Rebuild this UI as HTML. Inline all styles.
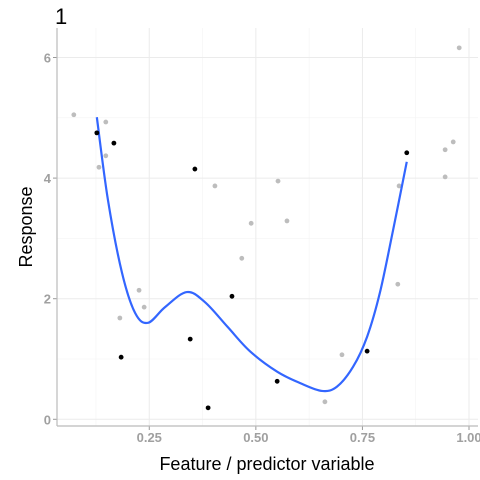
<!DOCTYPE html>
<html><head><meta charset="utf-8"><style>
body{margin:0;background:#fff}
svg{display:block;font-family:"Liberation Sans",sans-serif}
</style></head><body>
<svg id="chart" width="480" height="480">
<text x="55" y="24" font-size="22" fill="#000">1</text>
<text x="267" y="470" font-size="18" text-anchor="middle" fill="#000">Feature / predictor variable</text>
<text transform="translate(32,227) rotate(-90)" font-size="18" text-anchor="middle" fill="#000">Response</text>
<g id="grid"></g><g id="axes"></g><g id="marks"></g>
</svg>
<script>
const xTicks=[0.25,0.5,0.75,1.0];
const xTickLabels=["0.25","0.50","0.75","1.00"];
const yTicks=[0,2,4,6];
const yTickLabels=["0","2","4","6"];
const greyX=[0.073,0.148,0.148,0.132,0.226,0.238,0.181,0.404,0.489,0.467,0.552,0.573,0.702,0.662,0.836,0.833,0.944,0.963,0.944,0.977];
const greyY=[5.05,4.93,4.37,4.18,2.14,1.86,1.68,3.87,3.25,2.67,3.95,3.29,1.07,0.29,3.87,2.24,4.47,4.60,4.02,6.16];
const blackX=[0.127,0.167,0.357,0.184,0.444,0.346,0.388,0.854,0.761,0.550];
const blackY=[4.75,4.58,4.15,1.03,2.04,1.33,0.19,4.42,1.13,0.63];
const curveX=[0.127,0.153,0.186,0.217,0.247,0.287,0.338,0.381,0.434,0.486,0.550,0.604,0.655,0.690,0.728,0.761,0.791,0.822,0.854];
const curveY=[5.01,3.64,2.43,1.76,1.60,1.86,2.11,1.94,1.53,1.13,0.79,0.60,0.47,0.54,0.87,1.37,2.10,3.14,4.27];
const NS="http://www.w3.org/2000/svg";
const sx=v=>42.7+v*426.3, sy=v=>419.3-v*60.3;
const L=57,R=478,T=28,B=426;
function mk(tag,attrs,parent){const e=document.createElementNS(NS,tag);for(const k in attrs)e.setAttribute(k,attrs[k]);parent.appendChild(e);return e;}
const grid=document.getElementById('grid'),axes=document.getElementById('axes'),marks=document.getElementById('marks');
// minor grid
for(let i=0;i<xTicks.length-1;i++){const m=(xTicks[i]+xTicks[i+1])/2;const g=mk('line',{x1:sx(m),x2:sx(m),y1:T,y2:B,stroke:'#f3f3f3','stroke-width':0.6},grid);}
{const g=mk('line',{x1:sx(0.125),x2:sx(0.125),y1:T,y2:B,stroke:'#f3f3f3','stroke-width':0.6},grid);}
for(let i=0;i<yTicks.length-1;i++){const m=(yTicks[i]+yTicks[i+1])/2;const g=mk('line',{x1:L,x2:R,y1:sy(m),y2:sy(m),stroke:'#f3f3f3','stroke-width':0.6},grid);}
xTicks.forEach((t,i)=>{
 const g=mk('line',{x1:sx(t),x2:sx(t),y1:T,y2:B,stroke:'#ebebeb','stroke-width':1},grid);
 
 const tk=mk('line',{x1:sx(t),x2:sx(t),y1:B,y2:B+4,stroke:'#999','stroke-width':1},axes);
 
 const tx=mk('text',{x:sx(t),y:B+16,'font-size':13,'font-weight':'bold','text-anchor':'middle',fill:'#a0a0a0'},axes);
 tx.textContent=xTickLabels[i];
 
});
yTicks.forEach((t,i)=>{
 const g=mk('line',{x1:L,x2:R,y1:sy(t),y2:sy(t),stroke:'#ebebeb','stroke-width':1},grid);
 
 const tk=mk('line',{x1:L-4,x2:L,y1:sy(t),y2:sy(t),stroke:'#999','stroke-width':1},axes);
 
 const tx=mk('text',{x:L-6,y:sy(t)+5,'font-size':13,'font-weight':'bold','text-anchor':'end',fill:'#a0a0a0'},axes);
 tx.textContent=yTickLabels[i];
 
});
const ax1=mk('line',{x1:L,x2:L,y1:T,y2:B,stroke:'#bbb','stroke-width':1.2},axes);

const ax2=mk('line',{x1:L,x2:R,y1:B,y2:B,stroke:'#bbb','stroke-width':1.2},axes);

greyX.forEach((x,i)=>{const c=mk('circle',{cx:sx(x),cy:sy(greyY[i]),r:2.4,fill:'#bdbdbd'},marks);
 });
// smooth curve (Catmull-Rom)
const P=curveX.map((x,i)=>[sx(x),sy(curveY[i])]);
let d='M'+P[0][0]+','+P[0][1];
for(let i=0;i<P.length-1;i++){const p0=P[Math.max(0,i-1)],p1=P[i],p2=P[i+1],p3=P[Math.min(P.length-1,i+2)];
 d+=' C'+(p1[0]+(p2[0]-p0[0])/6)+','+(p1[1]+(p2[1]-p0[1])/6)+' '+(p2[0]-(p3[0]-p1[0])/6)+','+(p2[1]-(p3[1]-p1[1])/6)+' '+p2[0]+','+p2[1];}
const path=mk('path',{d:d,fill:'none',stroke:'#3366ff','stroke-width':2.2},marks);

blackX.forEach((x,i)=>{const c=mk('circle',{cx:sx(x),cy:sy(blackY[i]),r:2.4,fill:'#000'},marks);
 });
</script>
</body></html>
